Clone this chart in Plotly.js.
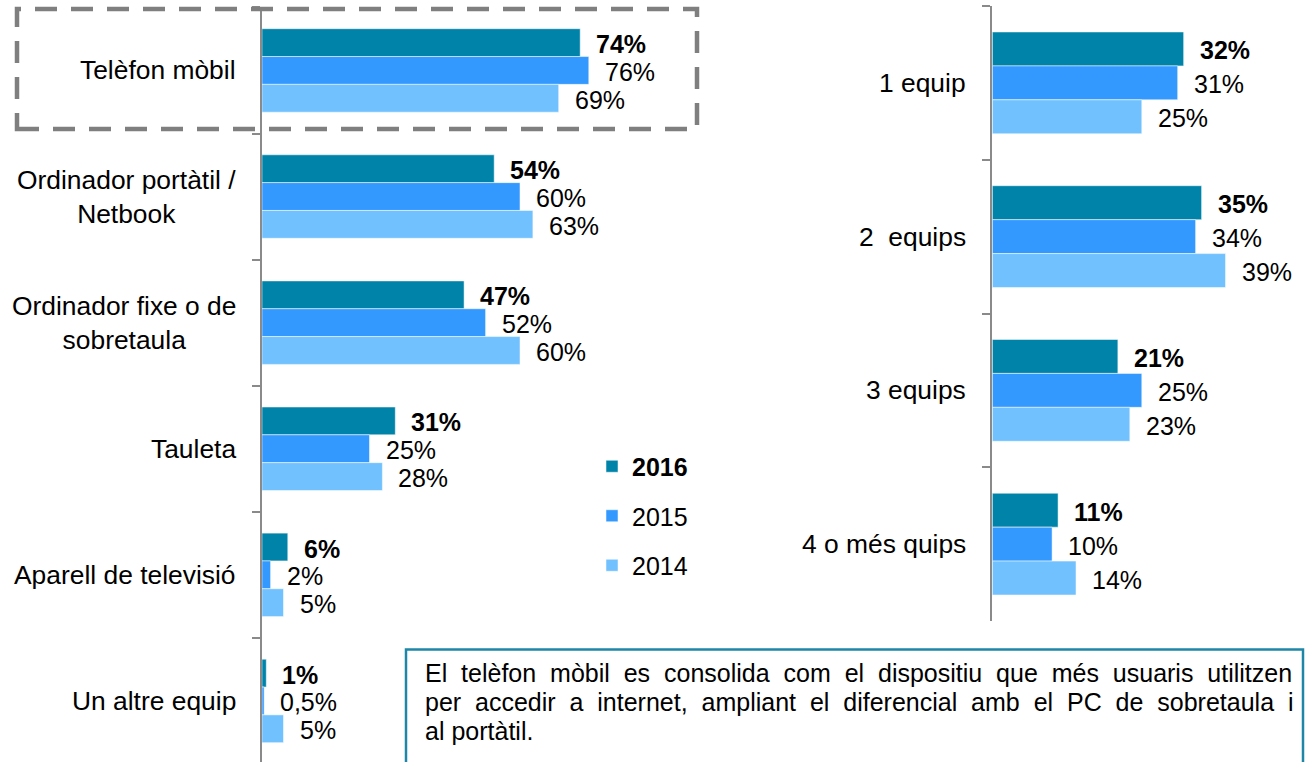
<!DOCTYPE html>
<html><head><meta charset="utf-8">
<script src="https://cdn.plot.ly/plotly-3.0.1.min.js"></script>
<style>html,body{margin:0;padding:0;background:#fff;overflow:hidden}</style>
</head><body><div id="chart" style="width:1307px;height:762px"></div>
<script>
// ---- data ----
const years = ['2016', '2015', '2014'];
const colors = ['#0083A9', '#3399FF', '#71C1FF'];
const deviceCats = ['Telèfon mòbil', 'Ordinador portàtil /<br>Netbook', 'Ordinador fixe o de<br>sobretaula', 'Tauleta', 'Aparell de televisió', 'Un altre equip'];
const device2016 = [74, 54, 47, 31, 6, 1];
const device2015 = [76, 60, 52, 25, 2, 0.5];
const device2014 = [69, 63, 60, 28, 5, 5];
const countCats = ['1 equip', '2\u00a0 equips', '3 equips', '4 o més quips'];
const count2016 = [32, 35, 21, 11];
const count2015 = [31, 34, 25, 10];
const count2014 = [25, 39, 23, 14];
const noteLines = [
  'El telèfon mòbil es consolida com el dispositiu que més usuaris utilitzen',
  'per accedir a internet, ampliant el diferencial amb el PC de sobretaula i',
  'al portàtil.'
];

// ---- layout constants ----
const W = 1307, H = 762;
const FONT = 'Liberation Sans, Arial, sans-serif';
const px = x => x / W, py = y => 1 - y / H;
const bargap = 0.338;
const leftTop = 7.4, leftPxPerUnit = 126.1;
const leftSpan = (H - leftTop) / leftPxPerUnit;
const rightTop = 6, rightBottom = 621;
const rightPxPerUnit = (rightBottom - rightTop) / countCats.length;
const rightAxisX = 992.3, rightPxPerPct = 5.98;
const barUnit = (1 - bargap) / 3;

const deviceSeries = [device2016, device2015, device2014];
const countSeries = [count2016, count2015, count2014];

const fmt = v => String(v).replace('.', ',') + '%';

const traces = [];
years.forEach((yr, i) => {
  traces.push({
    type: 'bar', orientation: 'h', y: deviceCats, x: deviceSeries[i],
    xaxis: 'x', yaxis: 'y', name: i === 0 ? '<b>' + yr + '</b>' : yr,
    legendgroup: yr, showlegend: true, hoverinfo: 'skip',
    marker: { color: colors[i], line: { color: 'rgba(255,255,255,0.5)', width: 1 } }
  });
});
years.forEach((yr, i) => {
  traces.push({
    type: 'bar', orientation: 'h', y: countCats, x: countSeries[i],
    xaxis: 'x2', yaxis: 'y2', name: yr, legendgroup: yr, showlegend: false, hoverinfo: 'skip',
    marker: { color: colors[i], line: { color: 'rgba(255,255,255,0.5)', width: 1 } }
  });
});

const annotations = [];
// category labels
deviceCats.forEach(c => annotations.push({
  xref: 'x domain', yref: 'y', x: 0, y: c, text: c, showarrow: false,
  xanchor: 'right', yanchor: 'middle', xshift: -24, align: 'center',
  font: { family: FONT, size: 26.4, color: '#000' }
}));
countCats.forEach(c => annotations.push({
  xref: 'x2 domain', yref: 'y2', x: 0, y: c, text: c, showarrow: false,
  xanchor: 'right', yanchor: 'middle', xshift: -24, align: 'center',
  font: { family: FONT, size: 26.4, color: '#000' }
}));
// value labels
years.forEach((yr, i) => {
  deviceSeries[i].forEach((v, j) => annotations.push({
    xref: 'x', yref: 'y', x: v, y: deviceCats[j],
    text: i === 0 ? '<b>' + fmt(v) + '</b>' : fmt(v), showarrow: false,
    xanchor: 'left', yanchor: 'middle', xshift: 14, yshift: (1 - i) * barUnit * leftPxPerUnit - 1.5,
    font: { family: FONT, size: 25, color: '#000' }
  }));
  countSeries[i].forEach((v, j) => annotations.push({
    xref: 'x2', yref: 'y2', x: v, y: countCats[j],
    text: i === 0 ? '<b>' + fmt(v) + '</b>' : fmt(v), showarrow: false,
    xanchor: 'left', yanchor: 'middle', xshift: 14, yshift: (1 - i) * barUnit * rightPxPerUnit - 1.5,
    font: { family: FONT, size: 25, color: '#000' }
  }));
});
// note text
const noteY = [673, 702, 731];
noteLines.forEach((ln, k) => annotations.push({
  xref: 'paper', yref: 'paper', x: px(423), y: py(noteY[k]),
  text: k < noteLines.length - 1 ? ln.split(' ').join('\u00a0\u00a0') : ln,
  showarrow: false, xanchor: 'left', yanchor: 'middle', align: 'left',
  font: { family: FONT, size: 25, color: '#000' }
}));

const axisCommon = {
  type: 'category', tickson: 'boundaries', ticks: 'outside', ticklen: 8, tickwidth: 2,
  tickcolor: '#8A8A8A', showline: true, linecolor: '#8A8A8A', linewidth: 2,
  showticklabels: false, showgrid: false, zeroline: false, fixedrange: true
};

const layout = {
  width: W, height: H, margin: { l: 0, r: 0, t: 0, b: 0 },
  paper_bgcolor: '#fff', plot_bgcolor: 'rgba(0,0,0,0)',
  font: { family: FONT, size: 25, color: '#000' },
  barmode: 'group', bargap: bargap, bargroupgap: 0,
  xaxis: { domain: [px(262), px(692)], range: [0, 100], visible: false, fixedrange: true },
  yaxis: Object.assign({}, axisCommon, { domain: [0, py(leftTop)], range: [-0.5 + leftSpan, -0.5] }),
  xaxis2: { domain: [px(rightAxisX), 1], range: [0, (W - rightAxisX) / rightPxPerPct], visible: false, fixedrange: true, anchor: 'y2' },
  yaxis2: Object.assign({}, axisCommon, { domain: [py(rightBottom), py(rightTop)], range: [countCats.length - 0.5, -0.5], anchor: 'x2' }),
  showlegend: true,
  legend: {
    x: px(592), y: py(516), xanchor: 'left', yanchor: 'middle',
    traceorder: 'grouped', tracegroupgap: 14, bgcolor: 'rgba(0,0,0,0)',
    font: { family: FONT, size: 25, color: '#000' }
  },
  shapes: [
    { type: 'rect', xref: 'paper', yref: 'paper', x0: px(17), x1: px(697), y0: py(129), y1: py(9),
      line: { color: '#7F7F7F', width: 4.5, dash: '22px,14px' } },
    { type: 'rect', xref: 'paper', yref: 'paper', x0: px(406), x1: px(1303), y0: -0.05, y1: py(649.5),
      line: { color: '#1E87A8', width: 2.5 }, fillcolor: '#fff' }
  ],
  annotations: annotations
};

Plotly.newPlot('chart', traces, layout, { displayModeBar: false, staticPlot: true });
</script></body></html>
